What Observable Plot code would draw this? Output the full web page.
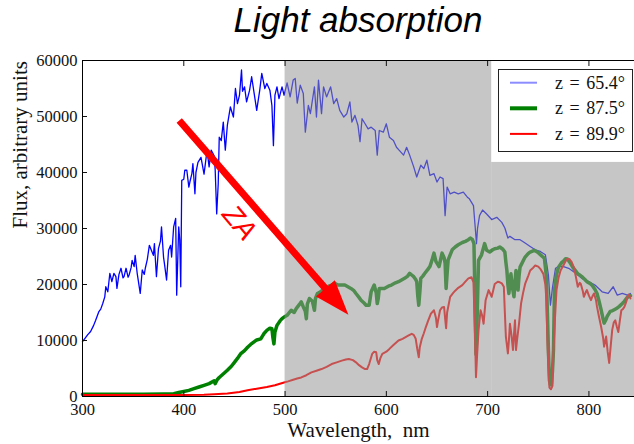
<!DOCTYPE html>
<html>
<head>
<meta charset="utf-8">
<script src="https://cdn.jsdelivr.net/npm/d3@7"></script>
<script src="https://cdn.jsdelivr.net/npm/@observablehq/plot@0.6"></script>
<style>
  body { margin: 0; background: #fff; }
  #title {
    width: 552px; height: 50px; padding-left: 82px;
    line-height: 50px; text-align: center;
    font: italic 35px "Liberation Sans", Arial, sans-serif; color: #000;
  }
</style>
</head>
<body>
<div id="title">Light absorption</div>
<div id="chart"></div>
<script>
// Solar spectra at three zenith angles: [wavelength nm, flux]
const spectrumZ654 = [[300,9800],[303,10500],[305,11000],[308,11600],[311,12700],[313,13600],[316,15100],[318,15600],[320,16600],[322,17800],[323,19600],[325,18700],[327,22000],[329,20500],[331,22000],[333,21400],[334,19300],[336,21800],[338,22900],[340,21200],[341,21400],[343,22900],[345,21300],[346,21700],[348,23000],[349,24300],[351,23200],[352,25200],[354,22000],[357,18400],[359,22600],[361,21800],[362,22900],[364,24500],[366,27000],[368,26100],[370,25200],[371,27300],[373,21400],[375,26400],[377,27800],[378,30300],[380,24900],[381,23600],[383,20800],[385,26100],[387,27000],[388,24900],[390,30300],[392,31800],[393,18100],[395,30300],[396,28000],[397,19600],[398,38600],[400,38800],[401,40400],[403,40400],[405,37400],[406,38300],[408,39800],[409,41600],[411,36200],[412,40000],[414,41800],[417,42700],[420,39700],[423,44000],[425,41000],[427,44000],[430,43000],[431,40500],[432.5,32600],[434,38000],[435,46300],[437,45700],[439,49000],[441,44000],[443,48400],[446,51700],[449,49900],[451,55000],[453,52300],[455,53800],[457,58300],[458,54500],[460,55300],[462,52600],[465,54700],[467,57100],[470,53500],[472,51100],[475,54700],[477,57700],[480,55000],[482,55900],[485,54700],[487,52000],[488.5,44800],[490,53800],[492,55300],[494,53200],[497,55300],[499,53800],[502,56000],[505,53500],[508,56500],[510,56800],[512,52400],[515,55600],[518,54100],[520,47200],[523,52000],[525,50500],[529,55300],[531,49900],[533,56500],[536,50500],[538,55300],[541,53500],[545,55300],[548,52300],[551,53200],[554,51100],[558,49900],[561,50500],[564,52600],[566,49000],[569,50200],[572,48400],[574,45500],[576,49600],[579,48700],[582,47800],[585,48100],[589,47500],[591,43100],[593,47500],[597,47200],[600,48700],[603,46300],[607,45700],[610,44500],[613,43900],[617,43100],[620,44500],[623,43100],[627,41000],[630,39200],[634,41300],[637,40700],[640,42200],[643,39500],[647,39800],[650,38300],[653,39200],[656,38900],[658,32300],[660,37400],[663,36200],[667,36500],[671,36200],[676,36500],[680,35600],[682,35300],[686,34100],[688,29600],[689,27300],[690,30000],[692,32300],[695,33300],[699,32600],[704,31600],[709,32000],[714,31100],[717,30100],[720,28300],[722,28600],[727,28000],[732,28000],[737,27400],[742,26800],[747,26200],[752,25900],[757,25300],[760,21700],[762,16300],[764,19400],[767,22900],[770,23200],[775,23200],[780,22900],[787,22000],[793,21100],[800,20500],[806,19900],[813,18700],[819,18400],[824,19600],[828,18100],[833,18400],[838,18100],[841,18400]];

const spectrumZ875 = [[300,400],[320,400],[340,400],[360,420],[380,450],[390,500],[395,700],[400,900],[405,1100],[410,1400],[415,1700],[420,2000],[425,2300],[430,2800],[431,2300],[433,3000],[435,3400],[440,4200],[443,4700],[447,5400],[450,6100],[453,6800],[456,7600],[460,8200],[463,8800],[466,9300],[469,9700],[472,10100],[476,10300],[479,11200],[482,11800],[485,12200],[487,12100],[488,10500],[489,9400],[490,11500],[492,12700],[495,13500],[497,13900],[500,14300],[502,14500],[506,15400],[509,15000],[511,15700],[514,16400],[516,16900],[518,16000],[520,15200],[521,13900],[522,16500],[524,17500],[527,17000],[529,15400],[530,17500],[532,18400],[535,18700],[539,19300],[543,19700],[546,19900],[549,20200],[552,19900],[556,19900],[559,19900],[562,19600],[565,19300],[568,18900],[570,18400],[573,17700],[575,17200],[578,16700],[580,16300],[583,16300],[585,18700],[588,19900],[590,18500],[591,16600],[592,17500],[593,19300],[596,19300],[598,19300],[602,19700],[605,19900],[609,20300],[612,20500],[615,20800],[618,21100],[621,21500],[623,22000],[625,21700],[627,21400],[629,20900],[630,20500],[631,18000],[632,16300],[633,18500],[634,21100],[636,21500],[638,22000],[641,22700],[643,23200],[645,24300],[647,25600],[649,24100],[651,23500],[652,23200],[654,24800],[655,25600],[657,24800],[658,23800],[659,19300],[660,22000],[661,24400],[663,25300],[665,26200],[668,26700],[671,27100],[675,27500],[678,27700],[681,28000],[683,28300],[685,28000],[686.5,27300],[687.5,17200],[688.5,7500],[689.5,13000],[691,24300],[694,25300],[697,27300],[699,26100],[702,25800],[705,26200],[707,26400],[710,26500],[712,26700],[715,26300],[717,25800],[718,24000],[719,22500],[720,20000],[721,18400],[722,20500],[723,21900],[724,20000],[726,17800],[727,20500],[728,22500],[729,21000],[730,19000],[731,21500],[732,23100],[735,24200],[737,24900],[740,25500],[742,25800],[746,26100],[749,25800],[751,25500],[754,25000],[756,24700],[758,21400],[759,15000],[760,8300],[761,2900],[762,2100],[763,2300],[764,4500],[765,8300],[766,19000],[768,21800],[770,23100],[773,23900],[775,24200],[777,24600],[779,24500],[781,24000],[784,23100],[787,22400],[789,21900],[791,21700],[793,21400],[796,20900],[798,20500],[801,20200],[803,19900],[806,19100],[808,18400],[810,17000],[812,15500],[814,13800],[815,13100],[817,13800],[818,14300],[820,14900],[821,15200],[823,15300],[825,15500],[828,15800],[830,16100],[833,16600],[835,17000],[837,17500],[839,17900],[841,18000]];

const spectrumZ899 = [[300,250],[350,250],[400,250],[420,300],[430,400],[443,540],[455,800],[463,1100],[472,1400],[482,1700],[490,2000],[499,2500],[503,2700],[508,3000],[512,3200],[516,3400],[521,3800],[526,4300],[531,4600],[536,4900],[541,5300],[546,5800],[551,6100],[556,6400],[560,6600],[563,6700],[567,6500],[570,6100],[573,5600],[576,5200],[579,4900],[581,4900],[583,5800],[586,7600],[588,8000],[590,7900],[591,6500],[592.5,5800],[594,6800],[596,7600],[600,8000],[603,8500],[607,9200],[612,10000],[616,10300],[619,10600],[622,10900],[625,11200],[627,11000],[629,10300],[630.5,8500],[632,7000],[633,8800],[635,10300],[637,11300],[639,12400],[641,13400],[644,14800],[647,15400],[649,14000],[650,12400],[651,13500],[653,15400],[655,15900],[657,16000],[658,14000],[659,12200],[660,15000],[663,17800],[666,18500],[668,18900],[671,19400],[675,19900],[678,20500],[681,21100],[684,21300],[686,20400],[687.5,11200],[688.5,3450],[689.5,7000],[691,11800],[693,15400],[694.5,14500],[696,13000],[698,17200],[701,19000],[704,17800],[707,20100],[710,20500],[712,20400],[714,20200],[716,19600],[717,15000],[718,10700],[720,7700],[721,10000],[722,13000],[723.5,11000],[725,8300],[726,11000],[727,13600],[728,8300],[729,10000],[731,13000],[733,16600],[735,18500],[737,20100],[740,21500],[742,22500],[745,23000],[747,23400],[750,23200],[752,22800],[755,21900],[757,20000],[758,17200],[759,10000],[760,5200],[761,1600],[762.5,1300],[764,1900],[765,8300],[766.5,14000],[768,19000],[770,21200],[772,22500],[775,23500],[777,24200],[779,24600],[781,24500],[783,24000],[785,23100],[787,21500],[789,19600],[791,20300],[792,20100],[794,18800],[795,17800],[797,18700],[798,19000],[800,18000],[802,17200],[803.5,17900],[805,18400],[807,17200],[808,16000],[810,14200],[812,12500],[814,10500],[815,8900],[816,9800],[817,10700],[818.5,8000],[820,6000],[821.5,9000],[823,11900],[824.5,13200],[826,13600],[827.5,12500],[829,11500],[830.5,13500],[832,15400],[833.5,15600],[835,16000],[837,17000],[838,17800],[839.5,18200],[841,17500]];

const zenithLabels = ["z = 65.4°", "z = 87.5°", "z = 89.9°"];
const xTicks = [300, 400, 500, 600, 700, 800];
const yTicks = [0, 10000, 20000, 30000, 40000, 50000, 60000];

// Absorption bands shaded in grey (wavelength from/to, flux from/to)
const shadedBands = [
  {x1: 500, x2: 704, y1: 0, y2: 60000},
  {x1: 704, x2: 845, y1: 0, y2: 41800}
];

// Zenith-angle arrow and its label, in wavelength/flux units
const zaArrow = {from: [396, 49200], to: [563, 14500]};
const zaLabel = [{x: 455, y: 31000, text: "ZA"}];

const serif = "'Liberation Serif', 'Times New Roman', serif";
const lineStyles = [
  {color: "#0000ff", width: 1.3, legendOpacity: 0.45, legendWidth: 2},
  {color: "#008000", width: 3.5, legendOpacity: 1, legendWidth: 4},
  {color: "#ff0000", width: 2, legendOpacity: 1, legendWidth: 2}
];
const series = [spectrumZ654, spectrumZ875, spectrumZ899];

const plot = Plot.plot({
  width: 634,
  height: 394,
  marginTop: 10,
  marginBottom: 48,
  marginLeft: 82,
  marginRight: 0,
  style: {fontFamily: serif, fontSize: "16.5px", color: "#111", background: "#fff", overflow: "visible"},
  x: {domain: [300, 845]},
  y: {domain: [0, 60000]},
  marks: [
    ...series.map((s, i) => Plot.line(s, {
      x: d => d[0], y: d => d[1],
      stroke: lineStyles[i].color, strokeWidth: lineStyles[i].width,
      strokeLinejoin: "round"
    })),
    Plot.rect(shadedBands, {x1: "x1", x2: "x2", y1: "y1", y2: "y2", fill: "#959595", fillOpacity: 0.54}),
    Plot.axisX(xTicks, {anchor: "bottom", tickSize: -5, tickPadding: 12, label: null, fontSize: 16.5}),
    Plot.axisX(xTicks, {anchor: "top", tickSize: -5, tickFormat: () => "", label: null}),
    Plot.axisY(yTicks, {anchor: "left", tickSize: -5, tickPadding: 10, tickFormat: d => String(d), label: null, fontSize: 16.5}),
    Plot.frame({stroke: "#000", strokeWidth: 1}),
    Plot.text(["Wavelength,  nm"], {frameAnchor: "bottom", dy: 40, lineAnchor: "bottom", fontSize: 21, fill: "#111"}),
    Plot.text(["Flux, arbitrary units"], {frameAnchor: "left", rotate: -90, dx: -62, lineAnchor: "middle", fontSize: 21, fill: "#111"}),
    Plot.text(zaLabel, {x: "x", y: "y", text: "text", rotate: 50, fill: "#ff0000", fontSize: 28, fontStyle: "italic", fontFamily: "'Liberation Sans', Arial, sans-serif"})
  ]
});

document.getElementById("chart").appendChild(plot);

// Arrow drawn with the plot's own scales
const xs = plot.scale("x"), ys = plot.scale("y");
const svg = d3.select(plot);
const S = [xs.apply(zaArrow.from[0]), ys.apply(zaArrow.from[1])];
const T = [xs.apply(zaArrow.to[0]), ys.apply(zaArrow.to[1])];
const len = Math.hypot(T[0] - S[0], T[1] - S[1]);
const u = [(T[0] - S[0]) / len, (T[1] - S[1]) / len];
const n = [-u[1], u[0]];
const headLen = 35, headHalf = 12.5, shaftHalf = 3.5;
const B = [T[0] - u[0] * headLen, T[1] - u[1] * headLen];
const pt = (p, k) => [p[0] + n[0] * k, p[1] + n[1] * k];
const poly = [pt(S, shaftHalf), pt(B, shaftHalf), pt(B, headHalf), T, pt(B, -headHalf), pt(B, -shaftHalf), pt(S, -shaftHalf)];
svg.append("path")
  .attr("d", "M" + poly.map(p => p.join(",")).join("L") + "Z")
  .attr("fill", "#ff0000");

// Legend
const legend = svg.append("g")
  .attr("font-family", serif)
  .attr("font-size", 18)
  .attr("text-anchor", "start");
legend.append("rect")
  .attr("x", 498.5).attr("y", 19.5).attr("width", 134).attr("height", 82)
  .attr("fill", "#fff").attr("stroke", "#222").attr("stroke-width", 1);
zenithLabels.forEach((label, i) => {
  const y = 32.7 + i * 25.6;
  legend.append("line")
    .attr("x1", 510).attr("x2", 537).attr("y1", y).attr("y2", y)
    .attr("stroke", lineStyles[i].color)
    .attr("stroke-opacity", lineStyles[i].legendOpacity)
    .attr("stroke-width", lineStyles[i].legendWidth);
  legend.append("text")
    .attr("x", 555).attr("y", y + 6)
    .attr("text-anchor", "start")
    .attr("fill", "#111")
    .attr("word-spacing", "2px")
    .text(label);
});
</script>
</body>
</html>
